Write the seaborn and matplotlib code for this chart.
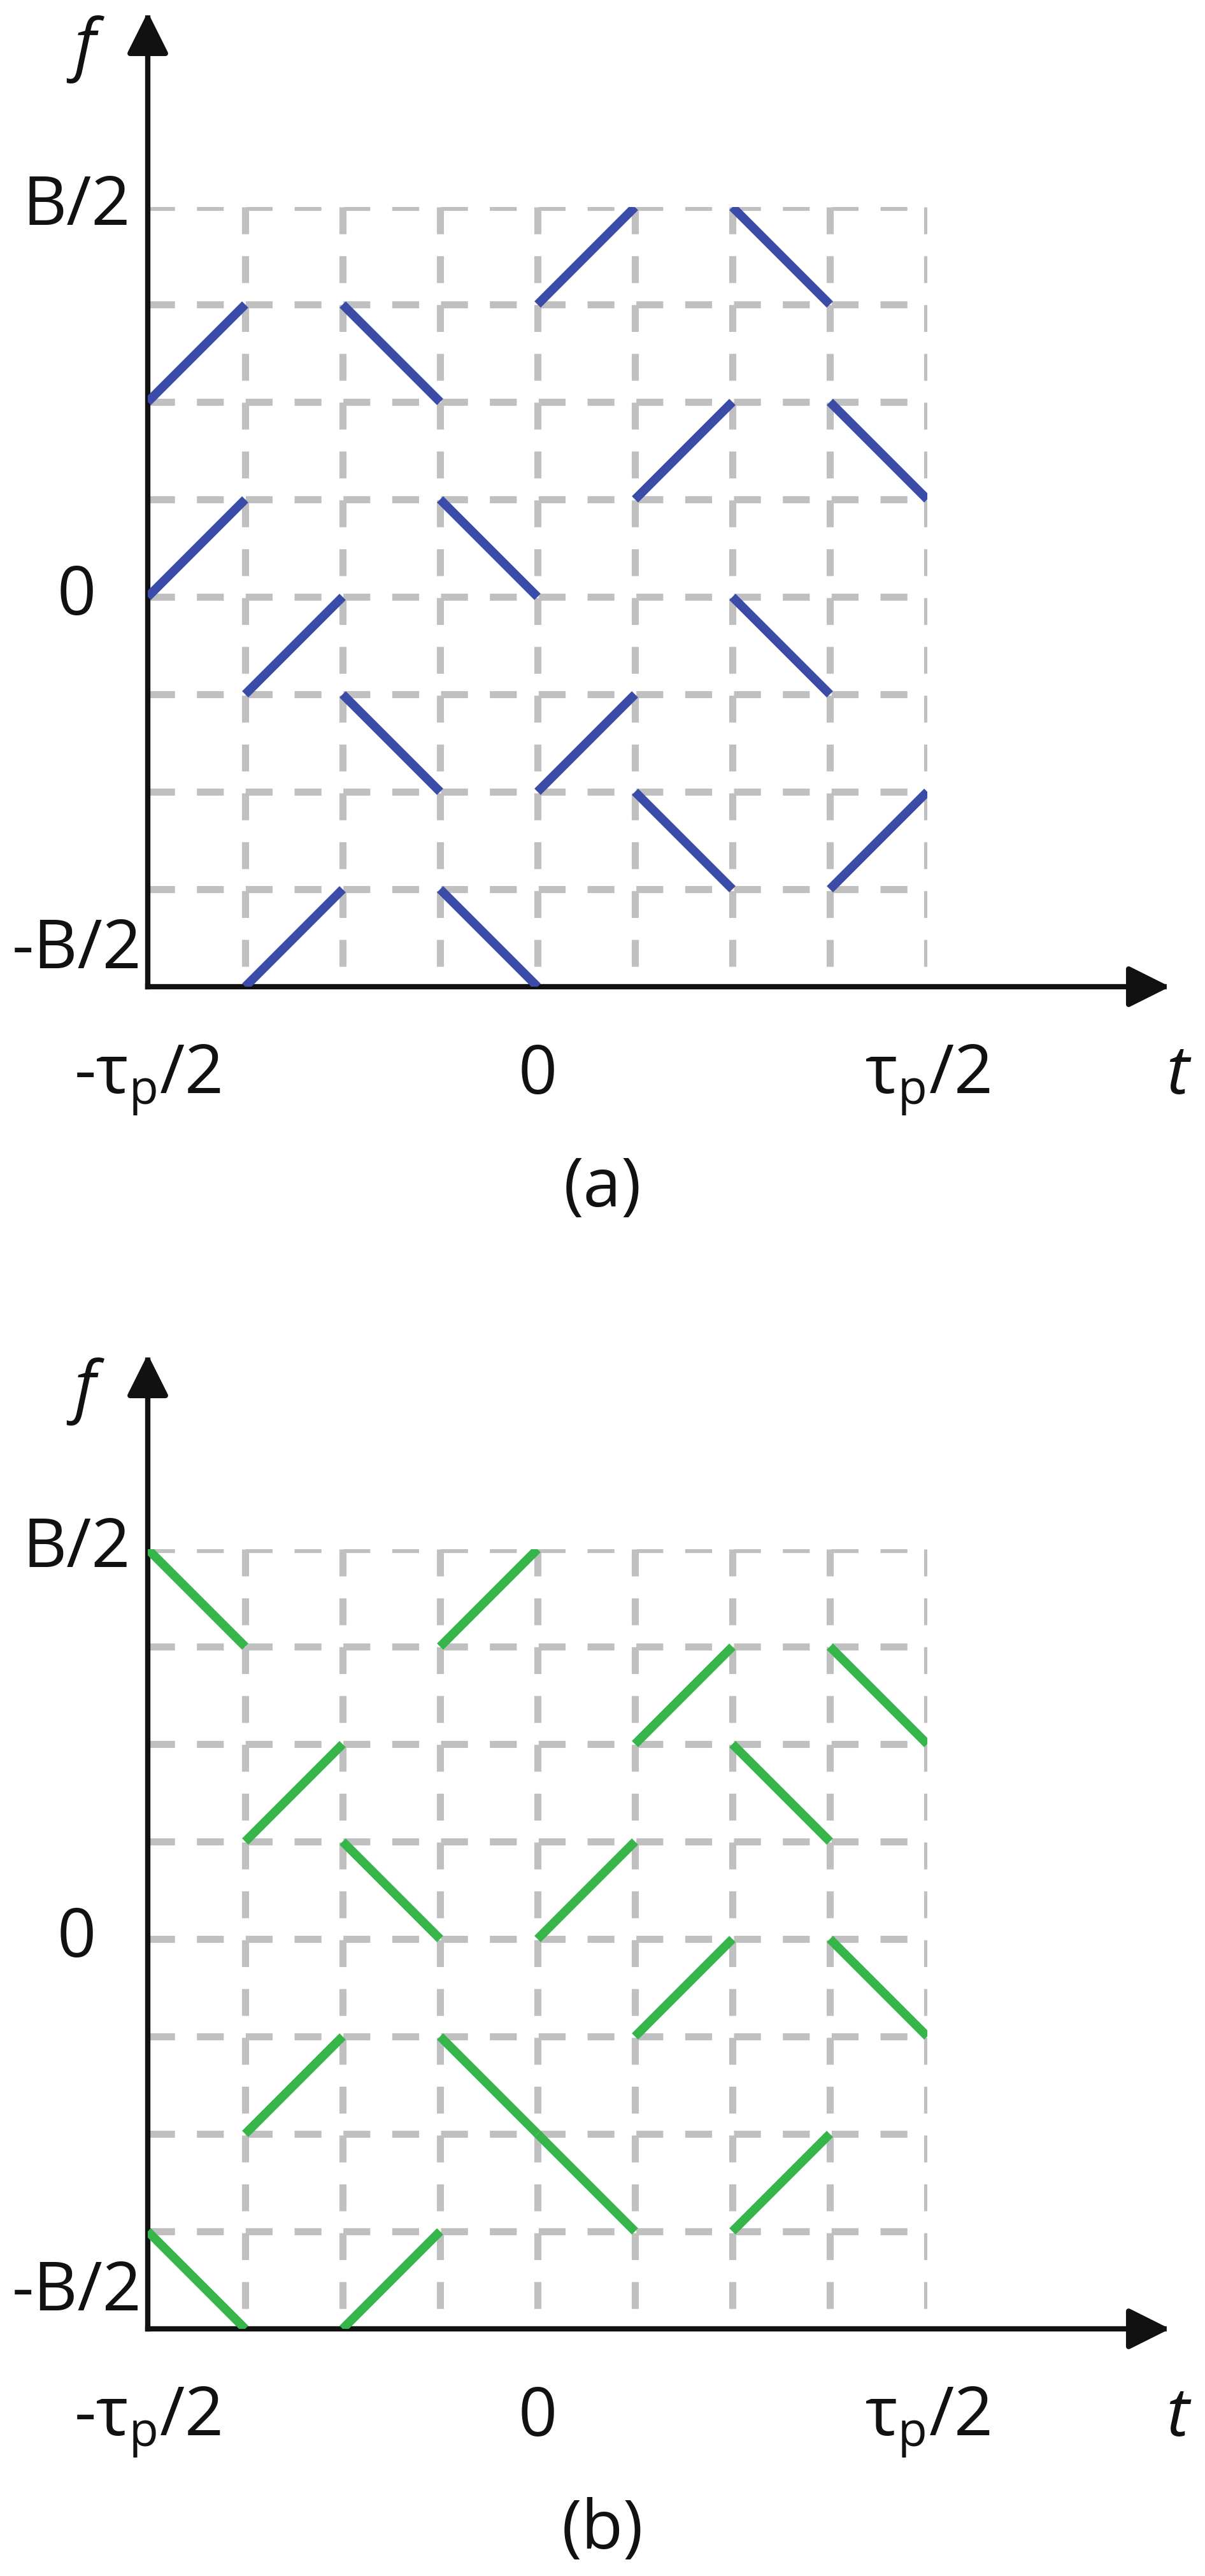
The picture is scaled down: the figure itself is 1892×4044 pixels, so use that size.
import numpy as np
import pandas as pd
import matplotlib
matplotlib.use("Agg")
import matplotlib.pyplot as plt
import seaborn as sns

# ---------------------------------------------
# data: each hop is (column, start level, end level) on the 8x8 grid
# ---------------------------------------------
a_cols = [0, 0, 1, 1, 2, 2, 3, 3, 4, 4, 5, 5, 6, 6, 7, 7]
a_f0 = [6, 4, 3, 0, 7, 3, 5, 1, 7, 2, 5, 2, 8, 4, 6, 1]
a_f1 = [7, 5, 4, 1, 6, 2, 4, 0, 8, 3, 6, 1, 7, 3, 5, 2]

b_cols = [0, 0, 1, 1, 2, 2, 3, 3, 4, 4, 5, 5, 6, 6, 7, 7]
b_f0 = [8, 1, 5, 2, 5, 0, 7, 3, 4, 2, 6, 3, 6, 1, 7, 4]
b_f1 = [7, 0, 6, 3, 4, 1, 8, 2, 5, 1, 7, 4, 5, 2, 6, 3]

f_ticks = [8, 4, 0.37]
f_labels = ["B/2", "0", "-B/2"]
t_ticks = [0, 4, 8]
t_labels = [r"-τ$_{\mathregular{p}}$/2", "0", r"τ$_{\mathregular{p}}$/2"]

BLUE = "#3a4ca7"
GREEN = "#35b54a"
GRID = "#c0c0c0"
INK = "#111111"

sns.set_theme(style="white")
plt.rcParams["font.family"] = ["Open Sans", "DejaVu Sans"]
plt.rcParams["mathtext.fontset"] = "custom"
plt.rcParams["mathtext.rm"] = "Open Sans"
plt.rcParams["mathtext.it"] = "Open Sans:italic"

W, H = 1892, 4044
CELL = 153
FS = 77

fig = plt.figure(figsize=(W / 100, H / 100), dpi=100)
fig.patch.set_facecolor("white")


def hops_frame(cols, f0, f1):
    rows = []
    for i, (c, s, e) in enumerate(zip(cols, f0, f1)):
        rows.append({"t": c, "f": s, "seg": i})
        rows.append({"t": c + 1, "f": e, "seg": i})
    return pd.DataFrame(rows)


def panel(origin_y, cols, f0, f1, color, tag):
    ax = fig.add_axes([232 / W, (H - origin_y) / H, 8 * CELL / W, 8 * CELL / H])

    # dashed grid, two dashes per cell
    dash = (0, (3.8, 3.1))
    for k in range(1, 9):
        ax.plot([0, 8], [k, k], color=GRID, lw=8, ls=dash,
                dash_capstyle="butt", zorder=1)
        ax.plot([k, k], [8, 0], color=GRID, lw=8, ls=dash,
                dash_capstyle="butt", zorder=1)

    # frequency hops
    df = hops_frame(cols, f0, f1)
    sns.lineplot(data=df, x="t", y="f", units="seg", estimator=None, sort=False,
                 color=color, linewidth=10, solid_capstyle="butt",
                 legend=False, ax=ax, zorder=4)

    # axes with arrows
    arrow = dict(arrowstyle="-|>,head_length=4.0,head_width=2.0", mutation_scale=10,
                 lw=6, color=INK, shrinkA=0, shrinkB=0, capstyle="projecting")
    ax.annotate("", xy=(0, 10), xytext=(0, 0), arrowprops=arrow,
                annotation_clip=False, zorder=3)
    ax.annotate("", xy=(10.49, 0), xytext=(0, 0), arrowprops=arrow,
                annotation_clip=False, zorder=3)

    for y, s in zip(f_ticks, f_labels):
        ax.text(-0.73, y, s, fontsize=FS, ha="center", va="center", color=INK)
    for x, s in zip(t_ticks, t_labels):
        ax.text(x, -1.1, s, fontsize=FS, ha="center", va="baseline", color=INK)

    ax.text(-0.65, 9.62, "f", fontsize=FS, style="italic", ha="center",
            va="center", color=INK)
    ax.text(10.57, -1.1, "t", fontsize=FS, style="italic", ha="center",
            va="baseline", color=INK)
    ax.text(4.67, -2.07, tag, fontsize=FS, ha="center", va="center", color=INK)

    ax.set_xlim(0, 8)
    ax.set_ylim(0, 8)
    ax.set_xlabel("")
    ax.set_ylabel("")
    ax.axis("off")
    return ax


panel(1549, a_cols, a_f0, a_f1, BLUE, "(a)")
panel(3656, b_cols, b_f0, b_f1, GREEN, "(b)")

fig.savefig("out.png", dpi=100, facecolor="white")
